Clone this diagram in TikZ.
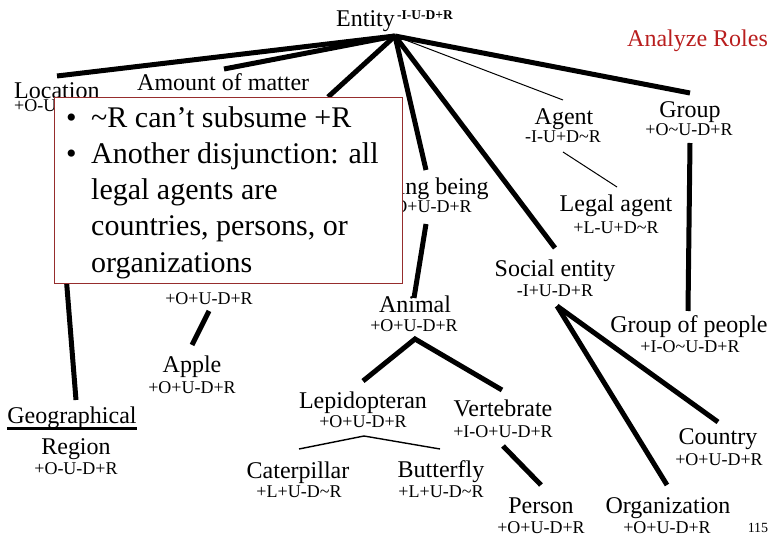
\documentclass[tikz,border=0pt]{standalone}
\usepackage{fontspec}
\setmainfont{Liberation Serif}
\definecolor{boxred}{RGB}{150,45,45}
\definecolor{titlered}{RGB}{185,30,30}
\begin{document}
\begin{tikzpicture}[x=1pt,y=-1pt,
  lbl/.style={anchor=base, inner sep=0pt, font=\fontsize{24}{24}\selectfont},
  tg/.style={anchor=base, inner sep=0pt, font=\fontsize{18}{18}\selectfont},
  isa/.style={line width=5pt},
  thinisa/.style={line width=1pt},
  midisa/.style={line width=1.4pt}]
\useasboundingbox[fill=white] (0,0) rectangle (780,540);

% coordinates for connector ends
\coordinate (hub) at (395,36);
\coordinate (locE) at (57,76);
\coordinate (amtE) at (224,69);
\coordinate (hidE) at (328,97);
\coordinate (livE) at (426,170);
\coordinate (socE) at (555,248);
\coordinate (agE) at (563,100);
\coordinate (grE) at (690,93);
\coordinate (livS) at (426,224);
\coordinate (aniN) at (414,298);
\coordinate (agS) at (563,152);
\coordinate (legN) at (617,187);
\coordinate (grS) at (690,143);
\coordinate (gopN) at (688,311);
\coordinate (socS) at (557,306);
\coordinate (couN) at (718,422);
\coordinate (orgN) at (667,485);
\coordinate (aniS) at (415,339);
\coordinate (lepN) at (363,381);
\coordinate (verN) at (502,390);
\coordinate (verS) at (503,446);
\coordinate (perN) at (541,485);
\coordinate (lepS) at (364,436);
\coordinate (catN) at (299,449);
\coordinate (butN) at (440,449);
\coordinate (hidS) at (209,311);
\coordinate (appN) at (192,345);
\coordinate (locS) at (64,250);
\coordinate (geoN) at (76,400);

% connectors
\draw[isa] (hub) -- (locE);
\draw[isa] (hub) -- (amtE);
\draw[isa] (hub) -- (hidE);
\draw[isa] (hub) -- (livE);
\draw[isa] (hub) -- (socE);
\draw[thinisa] (hub) -- (agE);
\draw[isa] (hub) -- (grE);
\draw[isa] (livS) -- (aniN);
\draw[thinisa] (agS) -- (legN);
\draw[isa] (grS) -- (gopN);
\draw[isa] (socS) -- (couN);
\draw[isa] (socS) -- (orgN);
\draw[isa] (lepN) -- (aniS) -- (verN);
\draw[isa] (verS) -- (perN);
\draw[midisa] (catN) -- (lepS) -- (butN);
\draw[isa] (hidS) -- (appN);
\draw[isa] (locS) -- (geoN);

% labels
\node[lbl, anchor=base west] (entity) at (336,27) {Entity};
\node[anchor=base west, inner sep=0pt, font=\fontsize{13.5}{14}\selectfont\bfseries] (entityT) at (397,20) {-I-U-D+R};
\node[lbl, anchor=base west, text=titlered] (title) at (627,47) {Analyze Roles};
\node[lbl, anchor=base west] (loc) at (14,99) {Location};
\node[tg, anchor=base west] (locT) at (14,112) {+O-U-D+R};
\node[lbl, anchor=base west] (amt) at (137,91) {Amount of matter};
\node[lbl] (agent) at (564,125) {Agent};
\node[tg] (agentT) at (563,143) {-I-U+D\textasciitilde R};
\node[lbl] (group) at (690,118) {Group};
\node[tg] (groupT) at (689,136) {+O\textasciitilde U-D+R};
\node[lbl] (living) at (427,195) {Living being};
\node[tg] (livingT) at (428,213) {+O+U-D+R};
\node[lbl] (legal) at (616,212) {Legal agent};
\node[tg] (legalT) at (616,234) {+L-U+D\textasciitilde R};
\node[lbl] (social) at (555,277) {Social entity};
\node[tg] (socialT) at (555,297) {-I+U-D+R};
\node[lbl] (animal) at (415,313) {Animal};
\node[tg] (animalT) at (414,332) {+O+U-D+R};
\node[lbl] (gop) at (689,333) {Group of people};
\node[tg] (gopT) at (690,353) {+I-O\textasciitilde U-D+R};
\node[tg] (hidT) at (209,305) {+O+U-D+R};
\node[lbl] (apple) at (192,373) {Apple};
\node[tg] (appleT) at (192,393) {+O+U-D+R};
\node[lbl] (geo) at (72,423) {Geographical};
\draw[line width=3pt] ([yshift=-5pt]geo.base west) -- ([yshift=-5pt]geo.base east);
\node[lbl] (region) at (76,454) {Region};
\node[tg] (geoT) at (76,474) {+O-U-D+R};
\node[lbl] (lep) at (363,408) {Lepidopteran};
\node[tg] (lepT) at (363,428) {+O+U-D+R};
\node[lbl] (vert) at (503,417) {Vertebrate};
\node[tg] (vertT) at (503,437) {+I-O+U-D+R};
\node[lbl] (cat) at (298,478) {Caterpillar};
\node[tg] (catT) at (299,497) {+L+U-D\textasciitilde R};
\node[lbl] (but) at (441,477) {Butterfly};
\node[tg] (butT) at (441,497) {+L+U-D\textasciitilde R};
\node[lbl] (person) at (541,513) {Person};
\node[tg] (personT) at (541,533) {+O+U-D+R};
\node[lbl] (org) at (668,513) {Organization};
\node[tg] (orgT) at (667,533) {+O+U-D+R};
\node[lbl] (country) at (718,444) {Country};
\node[tg] (countryT) at (719,465) {+O+U-D+R};
\node[anchor=base, inner sep=0pt, font=\fontsize{14}{14}\selectfont] (page) at (758,532) {115};

% callout box
\draw[boxred, line width=0.8pt, fill=white] (54,97) rectangle (402,283);
\node[anchor=north west, inner sep=0pt, align=left,
      font=\fontsize{30}{36.3}\selectfont] (note) at (66,106)
  {\makebox[25pt][l]{\textbullet}\textasciitilde R can't subsume +R\\
   \makebox[25pt][l]{\textbullet}Another disjunction: all\\
   \hspace*{25pt}legal agents are\\
   \hspace*{25pt}countries, persons, or\\
   \hspace*{25pt}organizations};
\end{tikzpicture}
\end{document}
